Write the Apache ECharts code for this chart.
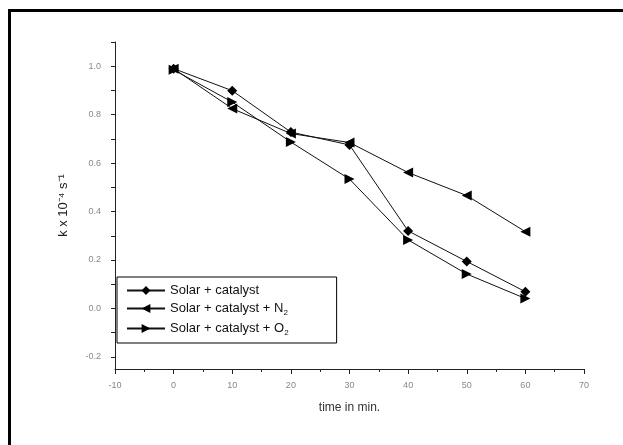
<!DOCTYPE html>
<html>
<head>
<meta charset="utf-8">
<script src="https://cdn.jsdelivr.net/npm/echarts@6/dist/echarts.min.js"></script>
<style>
  html, body { margin: 0; padding: 0; background: #fff; }
  #main { width: 623px; height: 445px; }
</style>
</head>
<body>
<div id="main"></div>
<script>
// time in min.
const times = [0, 10, 20, 30, 40, 50, 60]
// k x 10^-4 s^-1
const solarCatalyst = [0.990, 0.899, 0.728, 0.675, 0.320, 0.194, 0.069]
const solarCatalystN2 = [0.990, 0.825, 0.722, 0.685, 0.561, 0.466, 0.317]
const solarCatalystO2 = [0.985, 0.852, 0.687, 0.534, 0.283, 0.142, 0.041]

// y tick marks (major + minor) and labelled values
const yTicks = [-0.2, -0.1, 0, 0.1, 0.2, 0.3, 0.4, 0.5, 0.6, 0.7, 0.8, 0.9, 1.0, 1.1]
const yLabels = [-0.2, 0, 0.2, 0.4, 0.6, 0.8, 1.0]

const seriesNames = [
  'Solar + catalyst',
  'Solar + catalyst + N2',
  'Solar + catalyst + O2',
]

function pairs(vals) {
  return times.map((t, i) => [t, vals[i]])
}

const chart = echarts.init(document.getElementById('main'))

const lineStyle = { color: '#111', width: 1 }
const itemStyle = { color: '#000' }

chart.setOption({
  animation: false,
  backgroundColor: '#fff',
  // outer frame
  graphic: [{
    type: 'rect',
    shape: { x: 9.5, y: 10.5, width: 700, height: 500 },
    style: { fill: 'none', stroke: '#000', lineWidth: 3 },
    silent: true,
  }],
  grid: {
    left: 115,
    right: 39,
    top: 42,
    bottom: 76,
    outerBoundsMode: 'none',
  },
  legend: {
    orient: 'vertical',
    left: 117,
    top: 277,
    padding: [7, 48, 6, 9],
    itemGap: 5,
    itemWidth: 38,
    itemHeight: 11,
    borderColor: '#000',
    borderWidth: 1,
    backgroundColor: '#fff',
    data: seriesNames,
    formatter(name) {
      // subscripts for gases
      return name.replace(/(N|O)2$/, '$1{sub|2}')
    },
    textStyle: {
      fontFamily: 'Liberation Sans, Arial, sans-serif',
      fontSize: 13,
      color: '#111',
      rich: {
        sub: {
          fontSize: 8,
          color: '#111',
          padding: [9, 0, 0, 0],
        },
      },
    },
  },
  xAxis: {
    type: 'value',
    min: -10,
    max: 70,
    interval: 10,
    name: 'time in min.',
    nameLocation: 'middle',
    nameGap: 33,
    nameTextStyle: {
      fontFamily: 'Liberation Sans, Arial, sans-serif',
      fontSize: 12,
      color: '#333',
    },
    splitLine: { show: false },
    axisLine: { onZero: false, lineStyle: { color: '#222', width: 1 } },
    axisTick: { length: 5, lineStyle: { color: '#222' } },
    minorTick: { show: true, splitNumber: 2, length: 3, lineStyle: { color: '#222' } },
    axisLabel: {
      margin: 12,
      fontFamily: 'Liberation Sans, Arial, sans-serif',
      fontSize: 9,
      color: '#888',
    },
  },
  yAxis: {
    type: 'value',
    min: -0.25,
    max: 1.1,
    name: 'k x 10⁻⁴ s⁻¹',
    nameLocation: 'middle',
    nameGap: 45,
    nameTextStyle: {
      fontFamily: 'Liberation Sans, Arial, sans-serif',
      fontSize: 13,
      color: '#222',
    },
    splitLine: { show: false },
    axisLine: { show: true, onZero: false, lineStyle: { color: '#222', width: 1 } },
    axisTick: { show: true, length: 4, customValues: yTicks, lineStyle: { color: '#222' } },
    axisLabel: {
      margin: 14,
      customValues: yLabels,
      formatter: v => v.toFixed(1),
      fontFamily: 'Liberation Sans, Arial, sans-serif',
      fontSize: 9,
      color: '#888',
    },
  },
  series: [
    {
      name: seriesNames[0],
      type: 'line',
      data: pairs(solarCatalyst),
      symbol: 'diamond',
      symbolSize: 10,
      lineStyle,
      itemStyle,
    },
    {
      name: seriesNames[1],
      type: 'line',
      data: pairs(solarCatalystN2),
      symbol: 'triangle',
      symbolSize: 10,
      symbolRotate: 90,
      lineStyle,
      itemStyle,
    },
    {
      name: seriesNames[2],
      type: 'line',
      data: pairs(solarCatalystO2),
      symbol: 'triangle',
      symbolSize: 10,
      symbolRotate: -90,
      lineStyle,
      itemStyle,
    },
  ],
})
</script>
</body>
</html>
